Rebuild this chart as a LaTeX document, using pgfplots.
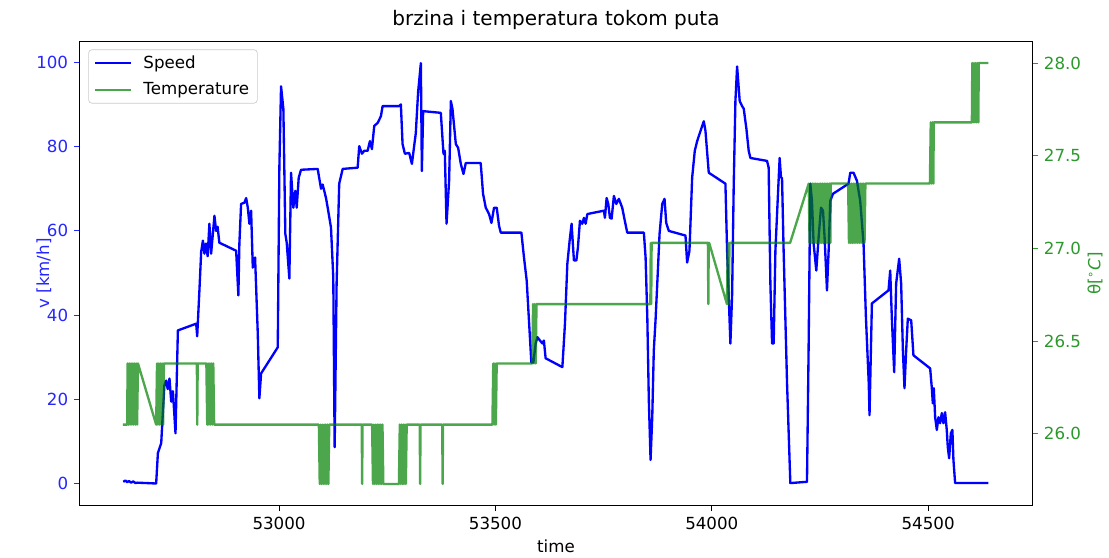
\documentclass[border=0pt]{standalone}
\usepackage{fontspec}
\setmainfont{DejaVu Sans}
\usepackage{pgfplots}
\pgfplotsset{compat=1.18}
\definecolor{tg}{rgb}{0,0.5,0}
\definecolor{tglab}{rgb}{0.17,0.6,0.17}
\definecolor{vblue}{rgb}{0.15,0.15,1}
\pgfplotsset{
  every axis title shift=0pt,
  common/.style={
    width=571.2pt, height=277.8pt, scale only axis,
    at={(0pt,0pt)}, anchor=south west,
    xmin=52540, xmax=54740,
    tick align=outside, major tick length=3.6pt,
    every tick label/.append style={font=\fontsize{10}{12}\selectfont},
    /pgf/number format/assume math mode=true,
    axis line style={line width=0.6pt},
    every tick/.append style={line width=0.6pt},
    label style={font=\fontsize{10}{12}\selectfont},
  }
}
\begin{document}
\begin{tikzpicture}
\path[use as bounding box] (-48pt,-31.2pt) rectangle (617.4pt,303pt);
\begin{axis}[common,
  ymin=-5, ymax=104.8,
  xtick={53000,53500,54000,54500},
  scaled x ticks=false,
  xticklabel style={/pgf/number format/1000 sep={}},
  xtick pos=bottom, ytick pos=left,
  ytick={0,20,40,60,80,100},
  yticklabel style={vblue},
  ytick style={vblue},
  xtick style={black},
  xlabel={time},
  xlabel style={at={(axis description cs:0.5,-0.0886)}, anchor=center},
  ylabel={\color{vblue}v [km/h]},
  ylabel style={at={(axis description cs:-0.0378,0.5)}, anchor=center},
  title={brzina i temperatura tokom puta},
  title style={at={(axis description cs:0.5,1.0475)}, anchor=center, font=\fontsize{12}{14}\selectfont},
]
\addplot[blue, line width=1.4pt, line join=round] coordinates {
(52640,0.5) (52645,0.8) (52649,0.4) (52653,0.7) (52658,0.3) (52663,0.6) (52668,0.2) (52672,0.3) (52716,0.1) (52720,7.3) (52727.7,9.7) (52731,16) (52735,23.4) (52739,24.5) (52742.7,22.5) (52746.8,25) (52750.8,19.5) (52754.7,22) (52760.7,12) (52766.2,36.4) (52808.5,38) (52810.8,35) (52816,46) (52820,55) (52824,57.7) (52827.6,54.6) (52831,57) (52835,54) (52839,61.7) (52843,54.6) (52850.7,63.6) (52854.6,60) (52858,61) (52862,57.2) (52900.8,55.3) (52906,44.7) (52908.3,57) (52912.3,66.4) (52920,66.7) (52924,67.8) (52927.8,65.5) (52931.5,61.7) (52935.4,64.8) (52939.3,51.3) (52944.6,53.7) (52950.8,35.7) (52954.5,20.3) (52958.5,26.2) (52997,32.4) (53000.7,75) (53004.6,94.3) (53010,88.9) (53014.5,59.3) (53017.7,57.2) (53023.8,48.7) (53027.7,73.8) (53033,65.5) (53037.6,69.5) (53040.8,65.5) (53045.4,72.6) (53050.8,74.5) (53089.3,74.7) (53097,70) (53100.8,71) (53108.5,67.8) (53112.4,65.5) (53120,60.8) (53125.3,49) (53128.5,8.7) (53133,47.5) (53139,71.2) (53147,74.7) (53181.6,75) (53185.3,80.1) (53191.5,78.3) (53196.8,79) (53204.7,79) (53210,81.3) (53214.6,79.4) (53220,84.9) (53227.8,85.6) (53235.4,87.2) (53239.3,89.6) (53277.6,89.6) (53281.5,90) (53285.4,80.6) (53290.8,78.3) (53300.7,78.5) (53307,75.9) (53310.8,79) (53316,83.2) (53321.4,93) (53327.7,99.8) (53330,74.2) (53333,88.4) (53373.8,88) (53380,78.3) (53383,79) (53387,61.7) (53393,71.9) (53397,90.8) (53400.8,88.9) (53408.5,80.6) (53413.8,79.7) (53420,75.9) (53426.2,73.5) (53431.5,76.1) (53466,76.1) (53471.4,68.8) (53477.7,65.5) (53485.3,64) (53490.8,61.9) (53496.8,65.5) (53503,65.5) (53508.4,61.2) (53512.3,59.6) (53560,59.6) (53566,53.7) (53572.3,48.2) (53583,28.8) (53587.7,28.8) (53593,33.3) (53597,34.8) (53603,34) (53608.5,33.3) (53612,34) (53616,29.8) (53654.7,27.7) (53660.7,38) (53666.2,52.2) (53671.5,57.7) (53676,61.7) (53681.4,53) (53687,53) (53690.6,56) (53695.3,62.4) (53700.8,61.7) (53704.6,63.1) (53708.5,61.7) (53712.4,64) (53750.7,64.8) (53753,63.1) (53757,67.8) (53760.8,66.4) (53764.6,63.1) (53768.5,62.9) (53773.8,68.3) (53779.3,66.4) (53785.3,67.6) (53793,65.5) (53799,62.4) (53804.6,59.6) (53843,59.6) (53847,53.7) (53851,39.5) (53854.5,19.9) (53858.5,5.7) (53862.4,15.8) (53866,31.7) (53870,38.8) (53874,47.5) (53879.3,59.3) (53885.5,66.4) (53890.8,67.6) (53894.7,61.9) (53900.7,60) (53939.2,58.9) (53943,52.5) (53948.4,55.3) (53954.6,72.6) (53960.7,79) (53966.2,81.3) (53973.9,83.7) (53981.5,86) (53985.4,83.7) (53993,73.8) (54031.5,71.2) (54035.4,55.3) (54043,33.3) (54047,45) (54050.7,71) (54054.6,90.8) (54058.5,99) (54064.5,90.8) (54070,89.6) (54073.8,89) (54080,84.2) (54085.3,79) (54089.2,77.3) (54127.7,76.6) (54131.4,75) (54135.4,47.5) (54139.3,33.3) (54143,33.3) (54147,55.3) (54152.2,67.1) (54156.8,77.3) (54160,72.6) (54162.3,72.6) (54166,55.3) (54173.9,23.9) (54181.5,0.2) (54220,0.5) (54223.7,31.7) (54227.7,71.2) (54231.5,67.1) (54235.3,57) (54241.5,50.6) (54246.8,58.4) (54252.4,65.5) (54257,64.8) (54260.7,58.4) (54266.2,45.9) (54270,55.3) (54273.8,67.1) (54280,68.8) (54316,71.2) (54320,73.8) (54327.5,73.8) (54335.4,71.9) (54343,67.1) (54350.7,57) (54356.2,39.5) (54362.7,23.9) (54364.5,16.3) (54370,42.8) (54408.4,45.9) (54412.3,50.6) (54416.2,39) (54421.5,26.5) (54426,47.5) (54433,53.4) (54437.6,47.5) (54441.6,31.7) (54445.3,22.7) (54449.2,31.7) (54453,39.2) (54460.8,38.8) (54466,30.5) (54504.6,27.4) (54508.5,22.7) (54510.8,19.1) (54513,22.7) (54516.2,15.8) (54520,12.8) (54523.8,15.8) (54527.7,14.4) (54531.6,16.8) (54535.3,14.4) (54539.2,17) (54543,12.8) (54545.4,8.7) (54548.5,6.1) (54552.4,12) (54556,12.8) (54558.4,5.7) (54562.3,0.2) (54639,0.2)
};
\end{axis}
\begin{axis}[common,
  ymin=25.6165, ymax=28.1135,
  axis x line=none, axis y line*=right,
  ytick={26,26.5,27,27.5,28},
  yticklabel style={tglab, /pgf/number format/.cd, fixed, fixed zerofill, precision=1},
  ytick style={tglab},
  ylabel={\color{tglab}θ[\textsuperscript{∘}\textit{C}]},
  ylabel style={at={(axis description cs:1.0662,0.5)}, anchor=center},
  legend style={at={(0.0087,0.984)}, anchor=north west, draw=black!20, rounded corners=2pt,
    fill=white, fill opacity=0.8, text opacity=1, font=\fontsize{10}{12}\selectfont,
    inner xsep=3pt, inner ysep=1.5pt, row sep=3.2pt,
    /tikz/every odd column/.append style={column sep=4.5pt}},
  legend cell align=left,
  legend image code/.code={\draw[#1] (0pt,0pt) -- (22pt,0pt);},
]
\addlegendimage{blue, line width=1.4pt}
\addlegendentry{Speed}
\addplot[tg, opacity=0.7, line width=1.4pt, line join=round] coordinates {
(52639,26.05) (52649,26.05) (52650,26.38) (52652,26.05) (52654,26.38) (52656,26.05) (52658,26.38) (52660,26.05) (52662,26.38) (52664,26.05) (52666,26.38) (52668,26.05) (52670,26.38) (52672,26.05) (52674,26.38) (52716,26.05) (52718,26.38) (52720,26.05) (52722,26.38) (52724,26.05) (52726,26.38) (52728,26.05) (52730,26.38) (52732,26.05) (52734,26.38) (52810,26.38) (52811,26.05) (52812,26.38) (52832,26.38) (52834,26.05) (52836,26.38) (52838,26.05) (52840,26.38) (52842,26.05) (52844,26.38) (52846,26.05) (52848,26.38) (52850,26.05) (53092,26.05) (53094,25.73) (53096,26.05) (53098,25.73) (53100,26.05) (53102,25.73) (53104,26.05) (53106,25.73) (53108,26.05) (53110,25.73) (53112,26.05) (53114,25.73) (53116,26.05) (53191,26.05) (53192,25.73) (53193,26.05) (53215,26.05) (53217,25.73) (53219,26.05) (53221,25.73) (53223,26.05) (53225,25.73) (53227,26.05) (53229,25.73) (53231,26.05) (53233,25.73) (53235,26.05) (53237,25.73) (53239,26.05) (53241,25.73) (53277,25.73) (53279,26.05) (53281,25.73) (53283,26.05) (53285,25.73) (53287,26.05) (53289,25.73) (53291,26.05) (53293,25.73) (53295,26.05) (53325,26.05) (53326,25.73) (53327,26.05) (53377,26.05) (53378,25.73) (53379,26.05) (53493,26.05) (53495,26.38) (53497,26.05) (53499,26.38) (53501,26.05) (53503,26.38) (53585,26.38) (53587,26.70) (53589,26.38) (53591,26.70) (53593,26.38) (53595,26.70) (53858,26.70) (53859,27.03) (53860,26.70) (53861,27.03) (53991,27.03) (53992,26.70) (53993,27.03) (53994,27.03) (54035,26.70) (54037,27.03) (54039,26.70) (54041,27.03) (54181,27.03) (54224,27.35) (54226,27.03) (54228,27.35) (54230,27.03) (54232,27.35) (54234,27.03) (54236,27.35) (54238,27.03) (54240,27.35) (54242,27.03) (54244,27.35) (54246,27.03) (54248,27.35) (54250,27.03) (54252,27.35) (54254,27.03) (54256,27.35) (54258,27.03) (54260,27.35) (54262,27.03) (54264,27.35) (54266,27.03) (54268,27.35) (54270,27.03) (54272,27.35) (54274,27.03) (54275,27.35) (54315,27.35) (54317,27.03) (54319,27.35) (54321,27.03) (54323,27.35) (54325,27.03) (54327,27.35) (54329,27.03) (54331,27.35) (54333,27.03) (54335,27.35) (54337,27.03) (54339,27.35) (54341,27.03) (54343,27.35) (54345,27.03) (54347,27.35) (54349,27.03) (54351,27.35) (54353,27.03) (54355,27.35) (54504,27.35) (54506,27.68) (54508,27.35) (54510,27.68) (54512,27.35) (54513,27.68) (54601,27.68) (54602,28.00) (54604,27.68) (54606,28.00) (54608,27.68) (54610,28.00) (54612,27.68) (54614,28.00) (54616,27.68) (54617,28.00) (54639,28.00)
};
\addlegendentry{Temperature}
\end{axis}
\end{tikzpicture}
\end{document}
